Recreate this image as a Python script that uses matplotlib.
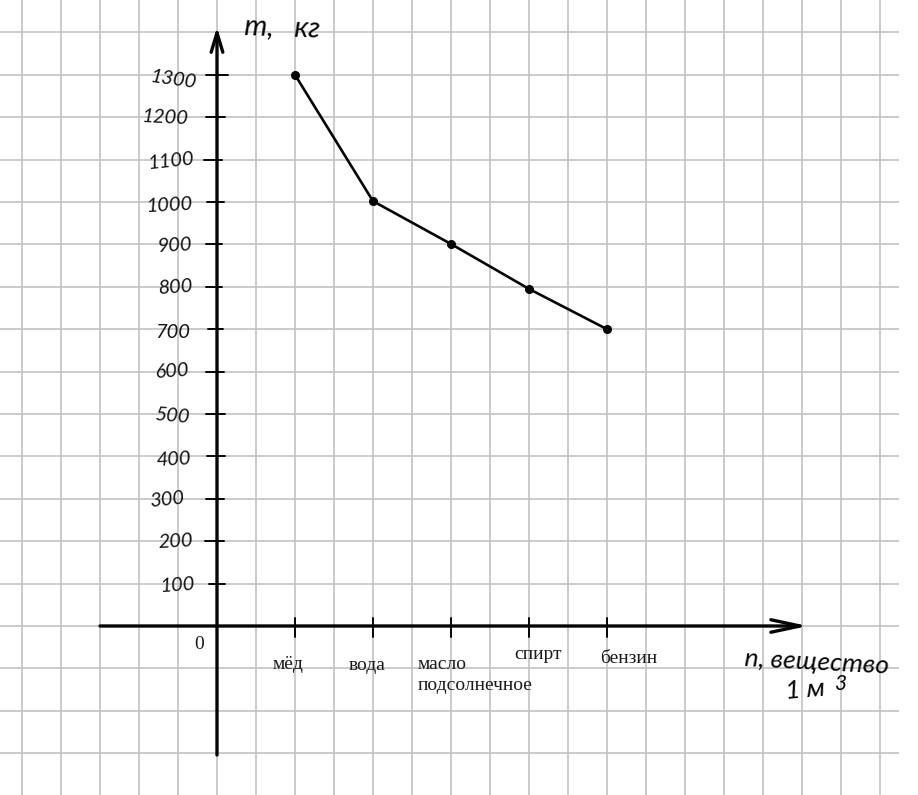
"""Mass of 1 m3 of different liquids, drawn on squared paper."""

import matplotlib
matplotlib.use("Agg")
import matplotlib.pyplot as plt
import numpy as np

SUBSTANCES = ["мёд", "вода", "масло\nподсолнечное", "спирт", "бензин"]
SUBSTANCE_POS = [1, 2, 3, 4, 5]
MASS = [1300, 1002, 901, 795, 700]
MASS_TICKS = [100, 200, 300, 400, 500, 600, 700, 800, 900, 1000, 1100, 1200, 1300]

WIDTH, HEIGHT = 918, 795
PAPER_WIDTH = 899
ORIGIN_X, ORIGIN_Y = 217, 626
PX_PER_SUBSTANCE = 78
PX_PER_KG = 0.424
GRID_COLOR = "#c2c2c2"
INK = "#050505"
HAND_FONT = ["Lato", "DejaVu Sans"]
PRINT_FONT = "Liberation Serif"
CAPTION_LINE_PX = 21

# handwritten numbers wander around: label centre in px, and rotation
HAND_LABEL_X = [178, 176, 167, 174, 172, 172, 173, 176, 174, 170, 172, 165, 174]
HAND_LABEL_DY = [-2, 0, -1, -3, -2, 0, -3, 0, -1, -3, -1, -1, -5]
HAND_LABEL_ROT = [4, 3, 6, 3, -5, 4, 0, 4, 3, 3, 6, -3, -8]
TICK_LEFT = [209, 205, 206, 207, 206, 206, 208, 206, 206, 207, 204, 206, 206]
TICK_RIGHT = [225, 224, 224, 225, 225, 224, 223, 222, 222, 224, 222, 225, 228]


def x_from_px(px: float) -> float:
    return (px - ORIGIN_X) / PX_PER_SUBSTANCE


def y_from_px(py: float) -> float:
    return (ORIGIN_Y - py) / PX_PER_KG


def draw_paper(ax) -> None:
    ax.set_xticks(np.arange(-2.5, 9.0, 0.5))
    ax.set_yticks(np.arange(-300, 1500, 100))
    ax.grid(True, color=GRID_COLOR, linewidth=1.2)
    ax.set_axisbelow(True)
    ax.tick_params(left=False, bottom=False, labelleft=False, labelbottom=False)
    for spine in ax.spines.values():
        spine.set_visible(False)


def draw_axes(ax) -> None:
    ax.annotate("", xy=(0, y_from_px(27)), xytext=(0, y_from_px(755)),
                arrowprops=dict(arrowstyle="->,head_length=1.4,head_width=0.42",
                                color=INK, lw=2.4, shrinkA=0, shrinkB=0))
    ax.annotate("", xy=(x_from_px(808), 0), xytext=(x_from_px(100), 0),
                arrowprops=dict(arrowstyle="->,head_length=2.1,head_width=0.45",
                                color=INK, lw=2.4, shrinkA=0, shrinkB=0))


def draw_ticks(ax) -> None:
    for value, left, right, label_x, dy, rot in zip(
        MASS_TICKS, TICK_LEFT, TICK_RIGHT, HAND_LABEL_X, HAND_LABEL_DY, HAND_LABEL_ROT
    ):
        ax.plot([x_from_px(left), x_from_px(right)], [value, value],
                color=INK, lw=1.4, solid_capstyle="round")
        ax.text(x_from_px(label_x), value + dy / PX_PER_KG, str(value),
                family=HAND_FONT, style="italic", fontsize=14.5, rotation=rot,
                ha="center", va="center", color="#151515")
    for pos in SUBSTANCE_POS:
        ax.plot([pos, pos], [y_from_px(618), y_from_px(637)],
                color=INK, lw=1.4, solid_capstyle="round")


def draw_labels(ax) -> None:
    serif = dict(family=PRINT_FONT, fontsize=14, color="#1a1a1a", va="baseline")
    # the printed captions are not centred on their ticks
    caption_px = [(273, 669), (349, 670), (418, 669), (514, 659), (600, 663)]
    for name, (px, py) in zip(SUBSTANCES, caption_px):
        # one text per line, "спирт" sits right on top of the long second line
        for i, line in enumerate(name.split("\n")):
            ax.text(x_from_px(px), y_from_px(py + i * CAPTION_LINE_PX), line, **serif)
    ax.text(x_from_px(194), y_from_px(649), "0", **serif)

    hand = dict(family=HAND_FONT, style="italic", color=INK, ha="center", va="center")
    ax.text(x_from_px(282), y_from_px(27), "m,   кг", fontsize=21, rotation=-2, **hand)
    ax.text(x_from_px(817), y_from_px(662), "n, вещество", fontsize=19, rotation=-3,
            clip_on=False, **hand)
    ax.text(x_from_px(805), y_from_px(690), "1 м", fontsize=19, rotation=5, **hand)
    ax.text(x_from_px(840), y_from_px(684), "3", fontsize=15, **hand)


def main() -> None:
    fig = plt.figure(figsize=(WIDTH / 100, HEIGHT / 100), dpi=100)
    ax = fig.add_axes([0, 0, PAPER_WIDTH / WIDTH, 1])
    ax.set_xlim(x_from_px(0), x_from_px(PAPER_WIDTH))
    ax.set_ylim(y_from_px(HEIGHT), y_from_px(0))

    draw_paper(ax)
    draw_axes(ax)
    draw_ticks(ax)
    ax.plot(SUBSTANCE_POS, MASS, color=INK, lw=1.9, marker="o", markersize=5.5)
    draw_labels(ax)

    fig.savefig("out.png", dpi=100)


if __name__ == "__main__":
    main()
